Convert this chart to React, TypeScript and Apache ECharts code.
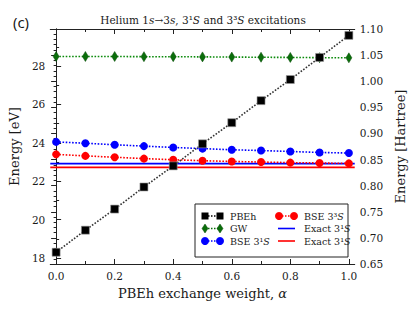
import React, { useEffect, useRef } from "react";
import * as echarts from "echarts";

const ALPHA = [0, 0.1, 0.2, 0.3, 0.4, 0.5, 0.6, 0.7, 0.8, 0.9, 1.0];
const PBEH = [18.3, 19.45, 20.55, 21.7, 22.8, 23.95, 25.05, 26.2, 27.3, 28.45, 29.6];
const GW = [28.5, 28.5, 28.5, 28.49, 28.49, 28.48, 28.47, 28.46, 28.45, 28.44, 28.43];
const BSE_SINGLET = [24.05, 23.98, 23.9, 23.83, 23.76, 23.7, 23.64, 23.6, 23.55, 23.5, 23.47];
const BSE_TRIPLET = [23.4, 23.32, 23.25, 23.18, 23.12, 23.07, 23.03, 23.0, 22.97, 22.95, 22.93];
const EXACT_SINGLET = 22.92;
const EXACT_TRIPLET = 22.72;

const X_MIN = -0.02;
const X_MAX = 1.02;
const X_MAJOR = [0, 0.2, 0.4, 0.6, 0.8, 1.0];
const X_MINOR = [0.1, 0.3, 0.5, 0.7, 0.9];
const HARTREE_TO_EV = 27.2114;
const HA_MIN = 0.65;
const HA_MAX = 1.1;
const EV_MAJOR = [18, 20, 22, 24, 26, 28];
const EV_MINOR = [19, 21, 23, 25, 27, 29];
const HA_MAJOR = [0.65, 0.7, 0.75, 0.8, 0.85, 0.9, 0.95, 1.0, 1.05, 1.1];

const SERIF = "DejaVu Serif";

function pairs(ys: number[]) {
  return ALPHA.map((a, i) => [a, ys[i]]);
}

export default function App() {
  const ref = useRef<HTMLDivElement>(null);
  useEffect(() => {
    if (!ref.current) return;
    const chart = echarts.init(ref.current, undefined, { renderer: "svg" });
    const haMinor: number[] = [];
    for (let k = 66; k < 110; k++) if (k % 5 !== 0) haMinor.push(k / 100);

    const tickBase = (len: number, vals: number[]) => ({
      show: true,
      inside: true,
      length: len,
      customValues: vals,
      lineStyle: { color: "#222", width: 1 },
    });
    const lineOn = { show: true, lineStyle: { color: "#222", width: 1 } };
    const lineOff = { show: false };
    const noLabel = { show: false };

    const xCommon = { type: "value", min: X_MIN, max: X_MAX, splitLine: { show: false } };
    const evMin = HA_MIN * HARTREE_TO_EV;
    const evMax = HA_MAX * HARTREE_TO_EV;
    const yEv = { type: "value", min: evMin, max: evMax, splitLine: { show: false } };
    const yHa = { type: "value", min: HA_MIN, max: HA_MAX, splitLine: { show: false } };

    const labelStyle = { fontFamily: SERIF, fontSize: 10.5, color: "#1a1a1a" };

    const dotted = (color: string) => ({ type: "dotted", color, width: 1.6 });

    const legendItems = [
      { label: "PBEh", kind: "square", color: "#000", col: 0, row: 0 },
      { label: "GW", kind: "diamond", color: "#0a6e0a", col: 0, row: 1 },
      { label: "BSE 3¹{i|S}", kind: "circle", color: "#0000ff", col: 0, row: 2 },
      { label: "BSE 3³{i|S}", kind: "circle", color: "#ff0000", col: 1, row: 0 },
      { label: "Exact 3¹{i|S}", kind: "line", color: "#0000ff", col: 1, row: 1 },
      { label: "Exact 3¹{i|S}", kind: "line", color: "#ff0000", col: 1, row: 2 },
    ];
    const colX = [205, 279];
    const rowY = [216, 228.5, 241];
    const Z = 20;
    const mk = (kind: string, color: string, x: number, y: number) => {
      if (kind === "square")
        return { type: "rect", z: Z + 2, shape: { x: x - 3.5, y: y - 3.5, width: 7, height: 7 }, style: { fill: color } };
      if (kind === "diamond")
        return {
          type: "polygon",
          z: Z + 2,
          shape: { points: [[x, y - 4.5], [x + 3, y], [x, y + 4.5], [x - 3, y]] },
          style: { fill: color, stroke: "#0a4a0a", lineWidth: 0.5 },
        };
      return { type: "circle", z: Z + 2, shape: { cx: x, cy: y, r: 4 }, style: { fill: color } };
    };
    const legendGraphics: any[] = [
      {
        type: "rect",
        z: Z,
        shape: { x: 195, y: 204, width: 153, height: 53 },
        style: { fill: "#fff", stroke: "#222", lineWidth: 1 },
      },
    ];
    legendItems.forEach((it) => {
      const x0 = colX[it.col];
      const y = rowY[it.row];
      if (it.kind === "line") {
        legendGraphics.push({
          type: "line",
          z: Z + 1,
          shape: { x1: x0 - 1, y1: y, x2: x0 + 16, y2: y },
          style: { stroke: it.color, lineWidth: 1.6 },
        });
      } else {
        legendGraphics.push({
          type: "line",
          z: Z + 1,
          shape: { x1: x0, y1: y, x2: x0 + 15, y2: y },
          style: { stroke: it.color, lineWidth: 1.4, lineDash: [1.5, 1.5] },
        });
        legendGraphics.push(mk(it.kind, it.color, x0, y));
        legendGraphics.push(mk(it.kind, it.color, x0 + 15, y));
      }
      legendGraphics.push({
        type: "text",
        z: Z + 1,
        x: x0 + 25,
        y,
        style: {
          text: it.label,
          fontFamily: SERIF,
          fontSize: 9.5,
          fill: "#1a1a1a",
          verticalAlign: "middle",
          rich: { i: { fontStyle: "italic", fontFamily: SERIF, fontSize: 9.5, fill: "#1a1a1a" } },
        },
      });
    });

    chart.setOption({
      animation: false,
      backgroundColor: "#fff",
      grid: { left: 50, right: 58, top: 29, bottom: 48, containLabel: false },
      xAxis: [
        {
          ...xCommon,
          position: "bottom",
          axisLine: lineOn,
          axisTick: tickBase(5, X_MAJOR),
          axisLabel: {
            ...labelStyle,
            customValues: X_MAJOR,
            margin: 6,
            formatter: (v: number) => v.toFixed(1),
          },
          name: "{n|PBEh exchange weight, }{i|α}",
          nameLocation: "middle",
          nameGap: 23,
          nameTextStyle: {
            rich: {
              n: { fontFamily: SERIF, fontSize: 13, color: "#1a1a1a" },
              i: { fontFamily: SERIF, fontSize: 13, color: "#1a1a1a", fontStyle: "italic" },
            },
          },
        },
        { ...xCommon, position: "bottom", axisLine: lineOff, axisTick: tickBase(3, X_MINOR), axisLabel: noLabel },
        { ...xCommon, position: "top", axisLine: lineOn, axisTick: tickBase(5, X_MAJOR), axisLabel: noLabel },
        { ...xCommon, position: "top", axisLine: lineOff, axisTick: tickBase(3, X_MINOR), axisLabel: noLabel },
      ],
      yAxis: [
        {
          ...yEv,
          position: "left",
          axisLine: lineOn,
          axisTick: tickBase(5, EV_MAJOR),
          axisLabel: { ...labelStyle, customValues: EV_MAJOR, margin: 5, formatter: (v: number) => String(Math.round(v)) },
          name: "Energy [eV]",
          nameLocation: "middle",
          nameRotate: 90,
          nameGap: 21,
          nameTextStyle: { fontFamily: SERIF, fontSize: 13, color: "#1a1a1a" },
        },
        { ...yEv, position: "left", axisLine: lineOff, axisTick: tickBase(3, EV_MINOR), axisLabel: noLabel },
        {
          ...yHa,
          position: "right",
          axisLine: lineOn,
          axisTick: tickBase(5, HA_MAJOR),
          axisLabel: { ...labelStyle, customValues: HA_MAJOR, margin: 5, formatter: (v: number) => v.toFixed(2) },
          name: "Energy [Hartree]",
          nameLocation: "middle",
          nameRotate: 90,
          nameGap: 23,
          nameTextStyle: { fontFamily: SERIF, fontSize: 13, color: "#1a1a1a" },
        },
        { ...yHa, position: "right", axisLine: lineOff, axisTick: tickBase(2.5, haMinor), axisLabel: noLabel },
      ],
      series: [
        {
          type: "line",
          name: "Exact 3¹S",
          data: [[X_MIN, EXACT_SINGLET], [X_MAX, EXACT_SINGLET]],
          showSymbol: false,
          symbol: "none",
          lineStyle: { color: "#0000ff", width: 1.8 },
          z: 2,
        },
        {
          type: "line",
          name: "Exact 3³S",
          data: [[X_MIN, EXACT_TRIPLET], [X_MAX, EXACT_TRIPLET]],
          showSymbol: false,
          symbol: "none",
          lineStyle: { color: "#ff0000", width: 1.8 },
          z: 2,
        },
        {
          type: "line",
          name: "GW",
          data: pairs(GW),
          symbol: "diamond",
          symbolSize: [6, 10],
          itemStyle: { color: "#0a6e0a", borderColor: "#0a4a0a", borderWidth: 0.5 },
          lineStyle: dotted("#0a8a0a"),
          z: 3,
        },
        {
          type: "line",
          name: "BSE 3¹S",
          data: pairs(BSE_SINGLET),
          symbol: "circle",
          symbolSize: 8,
          itemStyle: { color: "#0000ff" },
          lineStyle: dotted("#0000ff"),
          z: 3,
        },
        {
          type: "line",
          name: "BSE 3³S",
          data: pairs(BSE_TRIPLET),
          symbol: "circle",
          symbolSize: 8,
          itemStyle: { color: "#ff0000" },
          lineStyle: dotted("#ff0000"),
          z: 3,
        },
        {
          type: "line",
          name: "PBEh",
          data: pairs(PBEH),
          symbol: "rect",
          symbolSize: 8,
          itemStyle: { color: "#000", borderColor: "#999", borderWidth: 0.6 },
          lineStyle: dotted("#333"),
          z: 4,
        },
      ],
      graphic: [
        {
          type: "text",
          x: 203,
          y: 20,
          style: {
            text: "{n|Helium 1}{i|s}{n|→3}{i|s}{n|, 3¹}{i|S}{n| and 3³}{i|S}{n| excitations}",
            align: "center",
            verticalAlign: "middle",
            rich: {
              n: { fontFamily: SERIF, fontSize: 10.5, fill: "#1a1a1a" },
              i: { fontFamily: SERIF, fontSize: 10.5, fill: "#1a1a1a", fontStyle: "italic" },
            },
          },
        },
        {
          type: "text",
          x: 13,
          y: 22,
          style: {
            text: "(c)",
            fontFamily: "Open Sans",
            fontSize: 15,
            fill: "#111",
            verticalAlign: "middle",
          },
        },
        ...legendGraphics,
      ],
    });
    return () => chart.dispose();
  }, []);
  return <div ref={ref} style={{ position: "fixed", left: 0, top: 0, width: 415, height: 312 }} />;
}
